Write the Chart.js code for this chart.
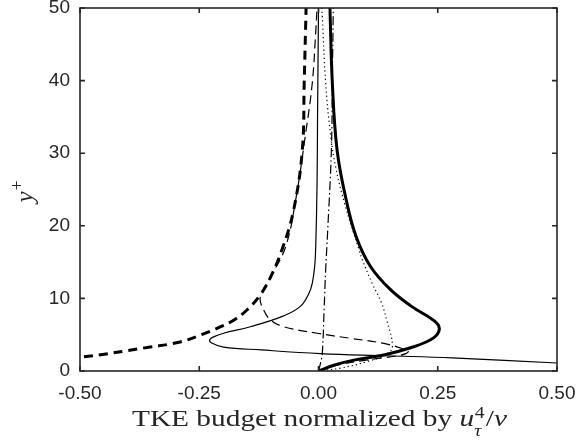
<!DOCTYPE html>
<html>
<head>
<meta charset="utf-8">
<script src="https://cdn.jsdelivr.net/npm/chart.js@4.4.1/dist/chart.umd.min.js"></script>
<style>
  html, body { margin: 0; padding: 0; background: #ffffff; }
  #wrap { width: 588px; height: 443px; position: relative; }
</style>
</head>
<body>
<div id="wrap"><canvas id="c" width="588" height="443"></canvas></div>
<script>
// Axis ticks
const xTicks = [-0.5, -0.25, 0, 0.25, 0.5];
const yTicks = [0, 10, 20, 30, 40, 50];

// Production (thick solid)
const prodY = [0, 0.8, 1.5, 2.2, 3.2, 4.3, 5.4, 6.6, 8.9, 11.2, 14.4, 18.5, 23.6, 30.4, 39.7, 50];
const prodX = [0, 0.032, 0.074, 0.137, 0.193, 0.235, 0.252, 0.248, 0.195, 0.151, 0.109, 0.079, 0.058, 0.039, 0.029, 0.024];

// Dissipation (thick dashed)
const dissY = [0, 0.5, 1, 1.9, 3.3, 4.0, 5.0, 6.1, 7.0, 8.4, 10.5, 13.0, 17.0, 22.2, 30.4, 39.7, 50];
const dissX = [-0.95, -0.8, -0.68, -0.5, -0.353, -0.29, -0.245, -0.205, -0.178, -0.15, -0.122, -0.1, -0.075, -0.052, -0.034, -0.03, -0.026];

// Viscous diffusion (thin solid)
const viscY = [0, 0.5, 1.1, 1.8, 2.1, 2.4, 2.9, 3.3, 3.9, 4.3, 4.7, 5.2, 6.1, 7.6, 8.9, 10.7, 12.1, 14.4, 16.7, 25.9, 35, 50];
const viscX = [0.85, 0.68, 0.5, 0.28, 0.14, 0.004, -0.12, -0.199, -0.225, -0.228, -0.22, -0.199, -0.143, -0.073, -0.038, -0.02, -0.013, -0.008, -0.006, -0.003, -0.002, 0.0];

// Turbulent transport (thin dashed)
const turbY = [0, 0.8, 1.5, 2.1, 2.4, 2.7, 3.0, 3.8, 4.5, 5.2, 6.1, 7.0, 8.4, 10.2, 13.0, 17.1, 23.5, 32.7, 39.7, 46.5, 50];
const turbX = [0, 0.039, 0.1, 0.165, 0.183, 0.188, 0.18, 0.137, 0.067, -0.003, -0.073, -0.1, -0.115, -0.122, -0.1, -0.069, -0.048, -0.027, -0.013, -0.006, -0.003];

// Pressure diffusion (dotted)
const presY = [0, 0.4, 1.3, 2.5, 3.6, 7.0, 9.4, 12.0, 15.3, 16.7, 23.0, 28.1, 32.7, 39.7, 48.8, 50];
const presX = [0, 0.046, 0.102, 0.147, 0.155, 0.143, 0.132, 0.113, 0.092, 0.085, 0.055, 0.036, 0.025, 0.015, 0.008, 0.007];

// Pressure strain / remaining term (dash-dot)
const dashDotY = [0, 1, 2.5, 8.9, 13.9, 19.0, 30.4, 40, 50];
const dashDotX = [0, 0.004, 0.008, 0.012, 0.015, 0.019, 0.027, 0.029, 0.031];

const pts = (xs, ys) => xs.map((v, i) => ({ x: v, y: ys[i] }));

const INK = '#262626';

function line(label, xs, ys, width, dash) {
  return {
    label,
    data: pts(xs, ys),
    showLine: true,
    borderColor: '#000000',
    borderWidth: width,
    borderDash: dash,
    pointRadius: 0,
    pointHoverRadius: 0,
    fill: false,
    tension: 0.4,
    clip: 0
  };
}

// Box frame with inward ticks, plus the axis titles
const framePlugin = {
  id: 'frame',
  afterDraw(chart) {
    const { ctx, chartArea: a, scales } = chart;
    const xs = scales.x, ys = scales.y;
    ctx.save();
    ctx.strokeStyle = INK;
    ctx.lineWidth = 1.6;
    ctx.strokeRect(a.left, a.top, a.right - a.left, a.bottom - a.top);
    const L = 5;
    ctx.beginPath();
    xs.ticks.forEach(t => {
      const px = xs.getPixelForValue(t.value);
      ctx.moveTo(px, a.bottom); ctx.lineTo(px, a.bottom - L);
      ctx.moveTo(px, a.top); ctx.lineTo(px, a.top + L);
    });
    ys.ticks.forEach(t => {
      const py = ys.getPixelForValue(t.value);
      ctx.moveTo(a.left, py); ctx.lineTo(a.left + L, py);
      ctx.moveTo(a.right, py); ctx.lineTo(a.right - L, py);
    });
    ctx.stroke();

    // x title: TKE budget normalized by u_tau^4 / nu
    ctx.fillStyle = INK;
    ctx.textBaseline = 'alphabetic';
    ctx.textAlign = 'left';
    const S = 24, s = 16;
    const fR = `${S}px "Liberation Serif"`, fI = `italic ${S}px "Liberation Serif"`;
    const fr = `${s}px "Liberation Serif"`, fi = `italic ${s}px "Liberation Serif"`;
    const roman = 'TKE budget normalized by ';
    ctx.font = fR; const w1 = ctx.measureText(roman).width;
    ctx.font = fI; const w2 = ctx.measureText('u').width;
    ctx.font = fr; const wSup = ctx.measureText('4').width;
    ctx.font = fi; const wSub = ctx.measureText('\u03C4').width;
    const wS = Math.max(wSup, wSub) + 1.5;
    ctx.font = fR; const wSl = ctx.measureText('/').width;
    ctx.font = fI; const wNu = ctx.measureText('\u03BD').width;
    const total = w1 + w2 + wS + wSl + wNu;
    const targetW = 375;
    const sx = targetW / total;
    const cx = (a.left + a.right) / 2 + 1;
    ctx.save();
    ctx.translate(cx - targetW / 2, 426);
    ctx.scale(sx, 1);
    let p = 0;
    ctx.font = fR; ctx.fillText(roman, p, 0); p += w1;
    ctx.font = fI; ctx.fillText('u', p, 0); p += w2;
    ctx.font = fr; ctx.fillText('4', p + 0.5, -8);
    ctx.font = fi; ctx.fillText('\u03C4', p, 10);
    p += wS;
    ctx.font = fR; ctx.fillText('/', p, 0); p += wSl;
    ctx.font = fI; ctx.fillText('\u03BD', p, 0);
    ctx.restore();

    // y title: y^+
    ctx.save();
    const fy = 'italic 25px "Liberation Serif"', fp = '18px "Liberation Serif"';
    ctx.font = fy; const wy = ctx.measureText('y').width;
    ctx.font = fp; const wp = ctx.measureText('+').width;
    const tw = wy + wp + 1;
    ctx.translate(33, (a.top + a.bottom) / 2 + 2);
    ctx.rotate(-Math.PI / 2);
    ctx.font = fy; ctx.fillText('y', -tw / 2, 0);
    ctx.font = fp; ctx.fillText('+', -tw / 2 + wy + 1, -10);
    ctx.restore();

    ctx.restore();
  }
};

new Chart(document.getElementById('c'), {
  type: 'scatter',
  data: {
    datasets: [
      line('Production', prodX, prodY, 3, []),
      line('Dissipation', dissX, dissY, 3, [9, 6]),
      line('Viscous diffusion', viscX, viscY, 1.2, []),
      line('Turbulent transport', turbX, turbY, 1.2, [9, 5]),
      line('Pressure diffusion', presX, presY, 1.2, [1.2, 3]),
      line('Pressure term', dashDotX, dashDotY, 1.2, [9, 3, 1.5, 3])
    ]
  },
  options: {
    responsive: false,
    devicePixelRatio: 1,
    animation: false,
    events: [],
    layout: { padding: { top: 8, right: 31, bottom: 0, left: 0 } },
    elements: { line: { capBezierPoints: false } },
    plugins: { legend: { display: false }, tooltip: { enabled: false } },
    scales: {
      x: {
        type: 'linear',
        min: -0.5, max: 0.5,
        afterBuildTicks: sc => { sc.ticks = xTicks.map(v => ({ value: v })); },
        afterFit: sc => { sc.height = 72; sc.paddingLeft = 0; sc.paddingRight = 0; },
        grid: { display: false, drawTicks: false },
        border: { display: false },
        ticks: {
          padding: 11,
          color: INK,
          font: { family: '"Liberation Sans", Arial, sans-serif', size: 19 },
          maxRotation: 0,
          callback: v => Number(v).toFixed(2)
        }
      },
      y: {
        type: 'linear',
        min: 0, max: 50,
        afterBuildTicks: sc => { sc.ticks = yTicks.map(v => ({ value: v })); },
        afterFit: sc => { sc.width = 80; sc.paddingTop = 0; sc.paddingBottom = 0; },
        grid: { display: false, drawTicks: false },
        border: { display: false },
        ticks: {
          padding: 10,
          color: INK,
          font: { family: '"Liberation Sans", Arial, sans-serif', size: 19 },
          callback: v => String(v)
        }
      }
    }
  },
  plugins: [framePlugin]
});
</script>
</body>
</html>
